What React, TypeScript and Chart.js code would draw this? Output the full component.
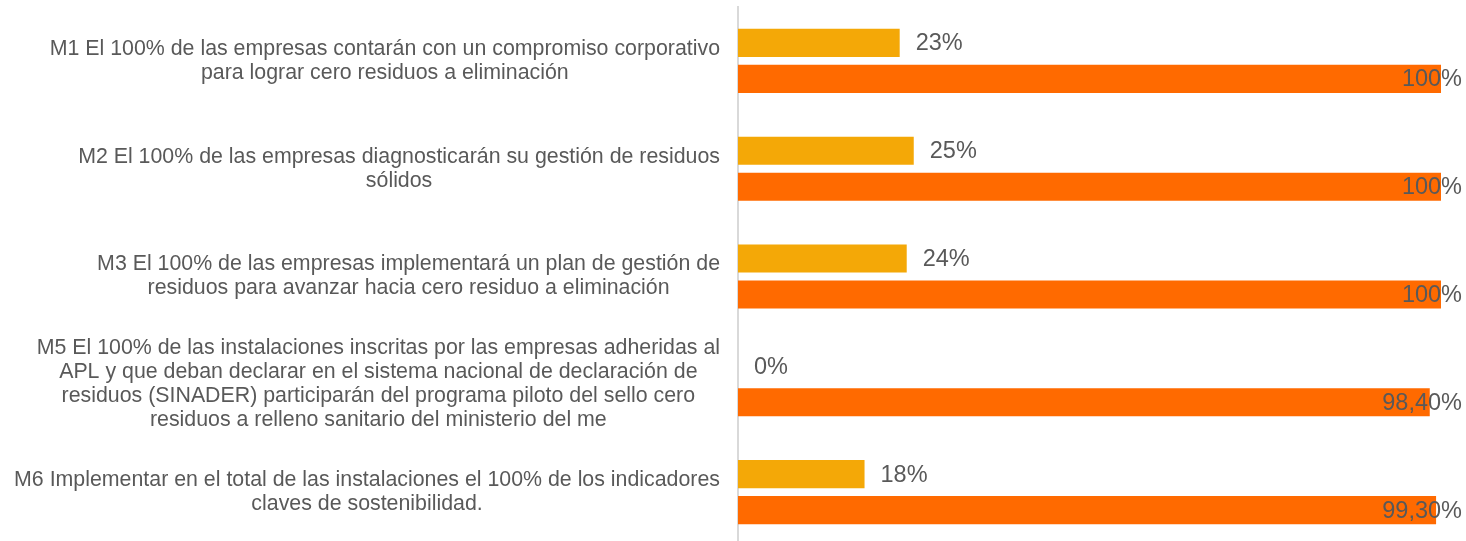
import React, { useEffect, useRef } from "react";
import { Chart, registerables } from "chart.js";

Chart.register(...registerables);

const categoryLines: string[][] = [
  ["M1 El 100% de las empresas contarán con un compromiso corporativo", "para lograr cero residuos a eliminación"],
  ["M2 El 100% de las empresas diagnosticarán su gestión de residuos", "sólidos"],
  ["M3 El 100% de las empresas implementará un plan de gestión de", "residuos para avanzar hacia cero residuo a eliminación"],
  [
    "M5 El 100% de las instalaciones inscritas por las empresas adheridas al",
    "APL y que deban declarar en el sistema nacional de declaración de",
    "residuos (SINADER) participarán del programa piloto del sello cero",
    "residuos a relleno sanitario del ministerio del me",
  ],
  ["M6 Implementar en el total de las instalaciones el 100% de los indicadores", "claves de sostenibilidad."],
];

const seriesA: number[] = [23, 25, 24, 0, 18];
const seriesB: number[] = [100, 100, 100, 98.4, 99.3];

const colorA = "#F4A807";
const colorB = "#FF6A00";
const textColor = "#595959";
const FONT = '"Liberation Sans", Arial, sans-serif';

const fmt = (v: number) =>
  Number.isInteger(v) ? `${v}%` : v.toFixed(2).replace(".", ",") + "%";

const labelPlugin = {
  id: "customLabels",
  afterDraw(chart: any) {
    const ctx = chart.ctx as CanvasRenderingContext2D;
    const yScale = chart.scales.y;
    ctx.save();
    // category labels
    ctx.font = `21.35px ${FONT}`;
    ctx.fillStyle = textColor;
    ctx.textAlign = "center";
    ctx.textBaseline = "middle";
    const lineH = 24;
    const rightEdge = 720;
    categoryLines.forEach((lines, i) => {
      const cy = yScale.getPixelForValue(i);
      const maxW = Math.max(...lines.map((l) => ctx.measureText(l).width));
      const cx = rightEdge - maxW / 2;
      const y0 = cy - ((lines.length - 1) * lineH) / 2;
      lines.forEach((l, k) => ctx.fillText(l, cx, y0 + k * lineH));
    });
    // value labels
    ctx.font = `23.5px ${FONT}`;
    ctx.textAlign = "left";
    const maxRight = chart.width - 4;
    chart.data.datasets.forEach((ds: any, di: number) => {
      const meta = chart.getDatasetMeta(di);
      meta.data.forEach((bar: any, i: number) => {
        const t = fmt(ds.data[i]);
        const w = ctx.measureText(t).width;
        let x = bar.x + 16;
        if (x + w > maxRight) x = maxRight - w;
        ctx.fillText(t, x, bar.y + 1);
      });
    });
    ctx.restore();
  },
};

export default function App() {
  const ref = useRef<HTMLCanvasElement | null>(null);
  useEffect(() => {
    if (!ref.current) return;
    const chart = new Chart(ref.current, {
      type: "bar",
      data: {
        labels: categoryLines.map((l) => l.join(" ")),
        datasets: [
          { label: "A", data: seriesA, backgroundColor: colorA, categoryPercentage: 0.668, barPercentage: 0.78 },
          { label: "B", data: seriesB, backgroundColor: colorB, categoryPercentage: 0.668, barPercentage: 0.78 },
        ],
      },
      options: {
        indexAxis: "y",
        animation: false,
        responsive: true,
        maintainAspectRatio: false,
        layout: { padding: { left: 738, right: 25, top: 7, bottom: 0 } },
        plugins: { legend: { display: false }, tooltip: { enabled: false } },
        scales: {
          x: { display: false, min: 0, max: 100 },
          y: {
            display: true,
            ticks: { display: false },
            grid: { display: false, drawTicks: false },
            border: { display: true, color: "#D9D9D9", width: 2 },
          },
        },
      },
      plugins: [labelPlugin],
    });
    return () => chart.destroy();
  }, []);
  return (
    <div style={{ position: "fixed", top: 0, left: 0, width: 1466, height: 546, background: "#fff" }}>
      <canvas ref={ref} />
    </div>
  );
}
